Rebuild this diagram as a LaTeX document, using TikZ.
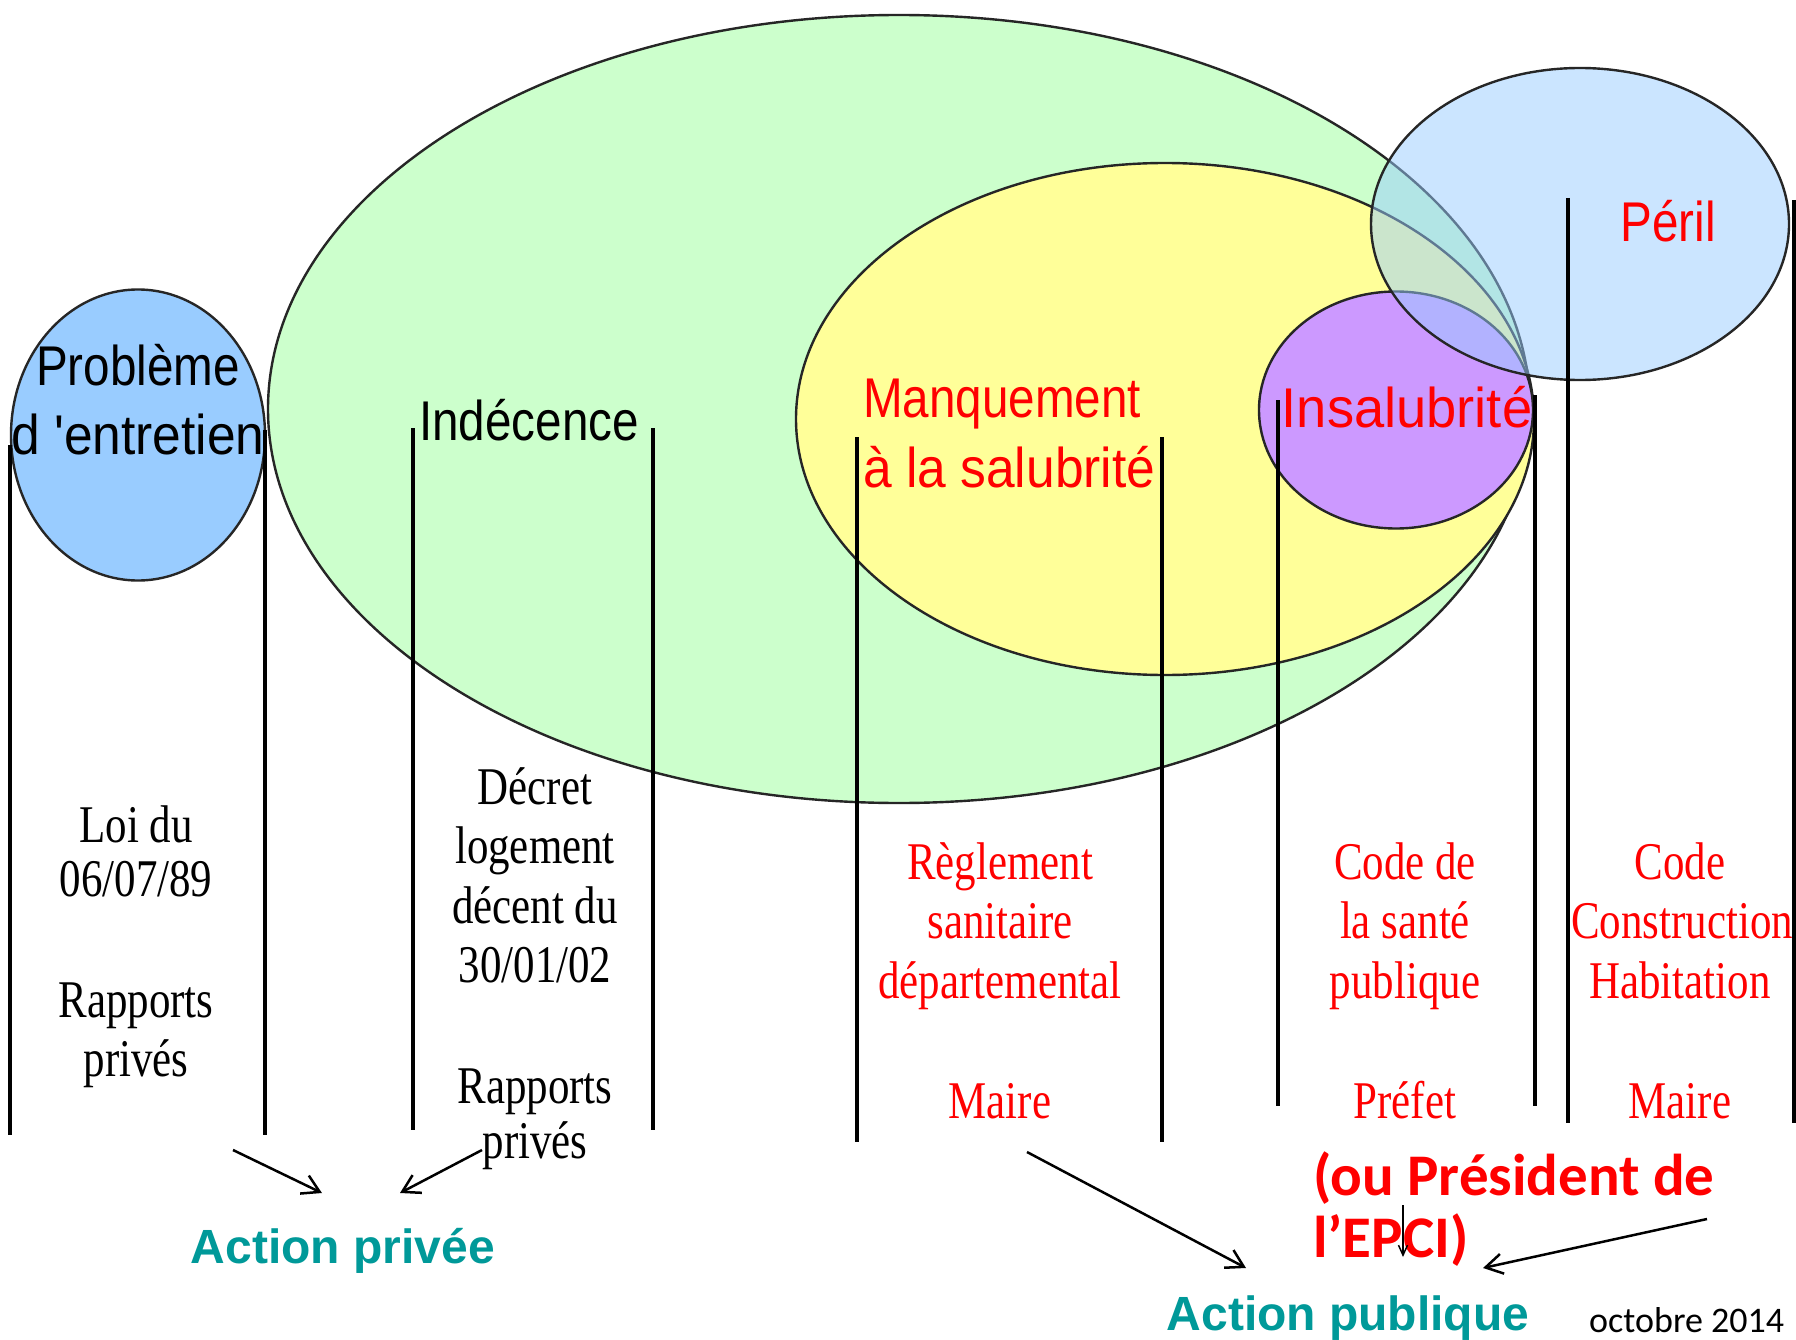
\documentclass[tikz,border=0pt]{standalone}
\usepackage{fontspec}
\usetikzlibrary{shapes.geometric,arrows.meta}
\newfontfamily\pixsans[FakeStretch=0.85]{Liberation Sans}
\newfontfamily\pixsansw[FakeStretch=0.92]{Liberation Sans}
\newfontfamily\pixsansww[FakeStretch=0.97]{Liberation Sans}
\newfontfamily\pixserif[FakeStretch=0.81]{Liberation Serif}
\newfontfamily\arialfont{Liberation Sans}
\newfontfamily\califont{Carlito}
\definecolor{probblue}{HTML}{99CCFF}
\definecolor{indgreen}{HTML}{CCFFCC}
\definecolor{manyellow}{HTML}{FFFF99}
\definecolor{inspurple}{HTML}{CC99FF}
\definecolor{perblue}{HTML}{99CCFF}
\definecolor{actteal}{HTML}{009999}
\definecolor{lawred}{HTML}{FF0000}
\begin{document}
\begin{tikzpicture}[x=1pt,y=-1pt,
  zone/.style={ellipse, draw=black!85, line width=2.4pt, inner sep=0pt, outer sep=0pt},
  lbl/.style={inner sep=0pt, anchor=base, font=\pixsans\fontsize{56}{60}\selectfont},
  law/.style={inner sep=0pt, anchor=base, font=\pixserif\fontsize{53}{60}\selectfont},
  sepline/.style={line width=3.5pt, black},
  arr/.style={line width=2.5pt, -{Straight Barb[length=17pt,width=20pt]}},
  smallarr/.style={line width=1.5pt, -{Straight Barb[length=10pt,width=9pt]}},
  action/.style={inner sep=0pt, anchor=base, text=actteal, font=\arialfont\bfseries\fontsize{48}{56}\selectfont},
  epci/.style={inner sep=0pt, anchor=base west, text=lawred, font=\califont\bfseries\fontsize{59}{62}\selectfont}
]
\useasboundingbox[fill=white] (0,0) rectangle (1796,1340);

% zones
\node[zone, fill=indgreen, minimum width=1262pt, minimum height=788pt] (indec) at (899,409) {};
\node[zone, fill=manyellow, minimum width=738pt, minimum height=512pt] (manq) at (1165,419) {};
\node[zone, fill=inspurple, minimum width=274pt, minimum height=237pt] (insal) at (1396,410) {};
\node[zone, fill=probblue, minimum width=254pt, minimum height=291pt] (prob) at (138,435) {};
\node[zone, fill=perblue, fill opacity=0.5, minimum width=418pt, minimum height=312pt] (peril) at (1580,224) {};

% separator lines
\draw[sepline] (10,445) -- (10,1135);
\draw[sepline] (265,430) -- (265,1135);
\draw[sepline] (413,428) -- (413,1130);
\draw[sepline] (653,428) -- (653,1130);
\draw[sepline] (857,437) -- (857,1142);
\draw[sepline] (1162,437) -- (1162,1142);
\draw[sepline] (1278,400) -- (1278,1106);
\draw[sepline] (1535,395) -- (1535,1106);
\draw[sepline] (1568,198) -- (1568,1123);
\draw[sepline] (1794,200) -- (1794,1123);

% zone labels
\node[lbl] (tprob1) at (138,385) {Problème};
\node[lbl, font=\pixsansw\fontsize{56}{60}\selectfont] (tprob2) at (138,454) {d 'entretien};
\node[lbl] (tind) at (529,440) {Indécence};
\node[lbl, anchor=base west, text=lawred] (tman1) at (863,417) {Manquement};
\node[lbl, anchor=base west, text=lawred, font=\pixsansw\fontsize{56}{60}\selectfont] (tman2) at (863,487) {à la salubrité};
\node[lbl, text=lawred, font=\pixsansww\fontsize{56}{60}\selectfont] (tins) at (1407,427) {Insalubrité};
\node[lbl, text=lawred] (tper) at (1668,242) {Péril};

% column 1
\node[law] (c1a) at (136,842) {Loi du};
\node[law] (c1b) at (136,896) {06/07/89};
\node[law] (c1c) at (136,1017) {Rapports};
\node[law] (c1d) at (136,1076) {privés};
% column 2
\node[law] (c2a) at (535,804) {Décret};
\node[law] (c2b) at (535,863) {logement};
\node[law] (c2c) at (535,923) {décent du};
\node[law] (c2d) at (535,982) {30/01/02};
\node[law] (c2e) at (535,1103) {Rapports};
\node[law] (c2f) at (535,1158) {privés};
% column 3
\node[law, text=lawred] (c3a) at (1000,879) {Règlement};
\node[law, text=lawred] (c3b) at (1000,938) {sanitaire};
\node[law, text=lawred] (c3c) at (1000,998) {départemental};
\node[law, text=lawred] (c3d) at (1000,1118) {Maire};
% column 4
\node[law, text=lawred] (c4a) at (1405,879) {Code de};
\node[law, text=lawred] (c4b) at (1405,938) {la santé};
\node[law, text=lawred] (c4c) at (1405,998) {publique};
\node[law, text=lawred] (c4d) at (1405,1118) {Préfet};
% column 5
\node[law, text=lawred] (c5a) at (1680,879) {Code};
\node[law, text=lawred] (c5b) at (1682,938) {Construction};
\node[law, text=lawred] (c5c) at (1680,998) {Habitation};
\node[law, text=lawred] (c5d) at (1680,1118) {Maire};

% bottom labels
\node[action] (apriv) at (343,1263) {Action privée};
\node[action] (apub) at (1348,1330) {Action publique};
\node[epci] (ou1) at (1313,1195) {(ou Président de};
\node[epci] (ou2) at (1313,1257) {l’EPCI)};
\node[inner sep=0pt, anchor=base west, font=\califont\fontsize{36}{40}\selectfont] (date) at (1589,1332) {octobre 2014};

% arrows
\coordinate (a1s) at (233,1150);
\coordinate (a1e) at (322,1193);
\coordinate (a2s) at (482,1150);
\coordinate (a2e) at (400,1193);
\coordinate (a3s) at (1027,1152);
\coordinate (a3e) at (1246,1268);
\coordinate (a4s) at (1707,1219);
\coordinate (a4e) at (1483,1268);
\coordinate (a5s) at (1403,1205);
\coordinate (a5e) at (1403,1257);
\draw[arr] (a1s) -- (a1e);
\draw[arr] (a2s) -- (a2e);
\draw[arr] (a3s) -- (a3e);
\draw[arr] (a4s) -- (a4e);
\draw[smallarr] (a5s) -- (a5e);
\end{tikzpicture}
\end{document}
